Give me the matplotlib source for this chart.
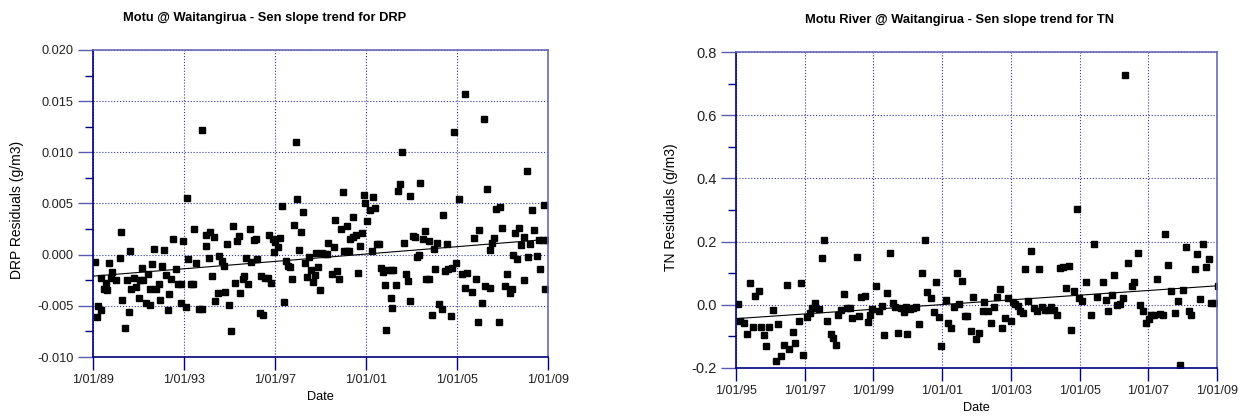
import numpy as np
import pandas as pd
import matplotlib
matplotlib.use('Agg')
import matplotlib.pyplot as plt
import matplotlib.dates as mdates
from matplotlib.ticker import MultipleLocator, FormatStrFormatter

plt.rcParams['font.family'] = ['Liberation Sans', 'DejaVu Sans']

# DRP residuals, Motu @ Waitangirua (decimal year, g/m3)
drp_years = [
    1989.07, 1989.19, 1989.22, 1989.34, 1989.37, 1989.47, 1989.56, 1989.63, 1989.69, 1989.78,
    1989.85, 1990.03, 1990.17, 1990.25, 1990.29, 1990.40, 1990.48, 1990.57, 1990.62, 1990.69,
    1990.79, 1990.91, 1991.01, 1991.09, 1991.17, 1991.20, 1991.32, 1991.41, 1991.50, 1991.53,
    1991.61, 1991.70, 1991.79, 1991.91, 1991.97, 1992.05, 1992.14, 1992.23, 1992.28, 1992.35,
    1992.45, 1992.54, 1992.67, 1992.76, 1992.86, 1992.89, 1992.96, 1993.07, 1993.14, 1993.18,
    1993.29, 1993.40, 1993.45, 1993.51, 1993.65, 1993.78, 1993.80, 1993.95, 1993.97, 1994.08,
    1994.15, 1994.25, 1994.33, 1994.37, 1994.50, 1994.55, 1994.68, 1994.74, 1994.81, 1994.90,
    1994.99, 1995.09, 1995.15, 1995.25, 1995.32, 1995.43, 1995.47, 1995.58, 1995.66, 1995.73,
    1995.82, 1995.90, 1995.95, 1996.07, 1996.17, 1996.20, 1996.35, 1996.41, 1996.47, 1996.57,
    1996.68, 1996.72, 1996.82, 1996.91, 1996.94, 1997.01, 1997.13, 1997.22, 1997.29, 1997.41,
    1997.48, 1997.58, 1997.67, 1997.75, 1997.83, 1997.92, 1997.97, 1998.05, 1998.13, 1998.23,
    1998.30, 1998.40, 1998.49, 1998.57, 1998.67, 1998.77, 1998.81, 1998.89, 1998.98, 1999.07,
    1999.18, 1999.27, 1999.33, 1999.51, 1999.60, 1999.64, 1999.71, 1999.81, 1999.90, 1999.98,
    2000.05, 2000.15, 2000.16, 2000.27, 2000.28, 2000.42, 2000.44, 2000.56, 2000.65, 2000.74,
    2000.81, 2000.90, 2000.96, 2001.06, 2001.17, 2001.25, 2001.30, 2001.40, 2001.47, 2001.59,
    2001.65, 2001.74, 2001.84, 2001.88, 2001.94, 2002.09, 2002.10, 2002.15, 2002.20, 2002.31,
    2002.39, 2002.48, 2002.57, 2002.66, 2002.76, 2002.84, 2002.93, 2002.95, 2003.06, 2003.17,
    2003.23, 2003.31, 2003.39, 2003.50, 2003.59, 2003.64, 2003.76, 2003.79, 2003.89, 2003.98,
    2004.05, 2004.14, 2004.23, 2004.33, 2004.40, 2004.49, 2004.58, 2004.62, 2004.73, 2004.79,
    2004.89, 2004.97, 2005.07, 2005.21, 2005.35, 2005.37, 2005.46, 2005.66, 2005.73, 2005.82,
    2005.91, 2005.95, 2006.08, 2006.17, 2006.23, 2006.30, 2006.45, 2006.46, 2006.56, 2006.64,
    2006.72, 2006.83, 2006.91, 2006.99, 2007.09, 2007.18, 2007.31, 2007.40, 2007.47, 2007.56,
    2007.66, 2007.74, 2007.82, 2007.93, 2007.96, 2008.06, 2008.13, 2008.22, 2008.31, 2008.40,
    2008.50, 2008.59, 2008.66, 2008.78, 2008.84, 2008.88, 2008.96,
]
drp_resid = [
    -0.0007, -0.0061, -0.0050, -0.0054, -0.0023, -0.0034, -0.0028, -0.0035, -0.0008, -0.0023,
    -0.0017, -0.0025, -0.0003, 0.0022, -0.0044, -0.0072, -0.0025, -0.0056, 0.0004, -0.0034,
    -0.0023, -0.0032, -0.0042, -0.0025, -0.0013, -0.0025, -0.0047, -0.0019, -0.0049, -0.0034,
    -0.0009, 0.0006, -0.0034, -0.0029, -0.0044, -0.0011, 0.0005, -0.0020, -0.0054, -0.0038,
    -0.0024, 0.0015, -0.0014, -0.0029, -0.0029, -0.0047, 0.0013, -0.0051, 0.0055, -0.0004,
    -0.0029, -0.0029, 0.0025, -0.0008, -0.0053, -0.0053, 0.0122, 0.0019, 0.0008, -0.0003,
    0.0022, -0.0021, 0.0017, -0.0045, -0.0037, -0.0001, -0.0006, -0.0011, -0.0036, 0.0010,
    -0.0049, -0.0075, 0.0028, -0.0028, 0.0013, 0.0018, -0.0037, -0.0024, -0.0021, -0.0003,
    -0.0029, 0.0025, -0.0007, 0.0014, 0.0015, -0.0004, -0.0057, -0.0021, -0.0059, -0.0023,
    -0.0023, 0.0019, -0.0028, 0.0015, 0.0003, 0.0012, 0.0007, 0.0016, 0.0048, -0.0046,
    -0.0006, -0.0011, -0.0012, -0.0024, 0.0029, 0.0110, 0.0054, 0.0005, 0.0022, 0.0042,
    -0.0008, -0.0022, -0.0002, -0.0015, -0.0027, -0.0020, 0.0002, -0.0012, -0.0035, 0.0002,
    0.0001, 0.0001, 0.0011, -0.0019, 0.0007, 0.0034, -0.0016, -0.0024, 0.0025, 0.0061,
    0.0004, 0.0028, 0.0004, 0.0004, 0.0015, 0.0037, 0.0017, 0.0019, -0.0018, 0.0008,
    0.0021, 0.0058, 0.0050, 0.0033, 0.0044, 0.0004, 0.0056, 0.0046, 0.0010, 0.0010,
    -0.0013, -0.0017, -0.0030, -0.0074, -0.0015, -0.0015, -0.0042, -0.0052, -0.0015, -0.0030,
    0.0062, 0.0069, 0.0100, 0.0011, -0.0019, -0.0026, -0.0045, 0.0057, 0.0018, 0.0017,
    -0.0002, 0.0000, 0.0070, 0.0015, 0.0023, -0.0024, -0.0024, 0.0013, -0.0059, 0.0006,
    -0.0014, 0.0011, -0.0048, -0.0053, 0.0039, -0.0016, 0.0010, -0.0014, -0.0060, -0.0013,
    0.0120, -0.0008, 0.0054, -0.0019, -0.0033, 0.0157, -0.0018, -0.0036, 0.0016, -0.0024,
    -0.0066, 0.0024, -0.0047, 0.0133, -0.0031, 0.0064, -0.0033, 0.0005, 0.0011, 0.0016,
    0.0045, -0.0066, 0.0047, 0.0026, -0.0031, -0.0019, -0.0037, -0.0034, 0.0000, 0.0021,
    -0.0004, 0.0026, 0.0009, -0.0025, 0.0017, 0.0082, -0.0002, 0.0010, 0.0044, 0.0024,
    -0.0001, 0.0014, -0.0014, 0.0014, 0.0049, -0.0034, 0.0014,
]
drp_trend_years = [1989.0, 2009.0]
drp_trend = [-0.0021, 0.0015]

# TN residuals, Motu River @ Waitangirua
tn_years = [
    1995.05, 1995.13, 1995.22, 1995.31, 1995.40, 1995.50, 1995.55, 1995.67, 1995.73, 1995.82,
    1995.88, 1995.96, 1996.09, 1996.15, 1996.23, 1996.32, 1996.41, 1996.48, 1996.55, 1996.65,
    1996.72, 1996.84, 1996.89, 1996.95, 1997.07, 1997.15, 1997.22, 1997.30, 1997.40, 1997.49,
    1997.57, 1997.64, 1997.75, 1997.83, 1997.90, 1997.98, 1998.06, 1998.15, 1998.24, 1998.33,
    1998.38, 1998.51, 1998.59, 1998.65, 1998.74, 1998.84, 1998.89, 1998.97, 1999.07, 1999.17,
    1999.26, 1999.31, 1999.40, 1999.49, 1999.57, 1999.64, 1999.72, 1999.79, 1999.88, 1999.96,
    1999.97, 2000.06, 2000.15, 2000.24, 2000.32, 2000.41, 2000.50, 2000.57, 2000.69, 2000.75,
    2000.83, 2000.92, 2000.98, 2001.10, 2001.17, 2001.25, 2001.33, 2001.42, 2001.49, 2001.58,
    2001.66, 2001.73, 2001.85, 2001.89, 2001.97, 2002.06, 2002.18, 2002.23, 2002.32, 2002.42,
    2002.51, 2002.60, 2002.67, 2002.74, 2002.83, 2002.93, 2002.99, 2003.06, 2003.13, 2003.21,
    2003.27, 2003.35, 2003.41, 2003.49, 2003.58, 2003.66, 2003.76, 2003.81, 2003.90, 2003.99,
    2004.08, 2004.17, 2004.27, 2004.33, 2004.42, 2004.51, 2004.60, 2004.68, 2004.76, 2004.83,
    2004.93, 2004.99, 2005.08, 2005.19, 2005.34, 2005.41, 2005.50, 2005.67, 2005.76, 2005.83,
    2005.93, 2006.00, 2006.08, 2006.18, 2006.26, 2006.33, 2006.41, 2006.52, 2006.59, 2006.69,
    2006.75, 2006.84, 2006.94, 2007.02, 2007.09, 2007.17, 2007.25, 2007.34, 2007.44, 2007.50,
    2007.58, 2007.67, 2007.77, 2007.86, 2007.93, 2008.00, 2008.09, 2008.18, 2008.24, 2008.35,
    2008.42, 2008.51, 2008.60, 2008.68, 2008.77, 2008.84, 2008.94, 2009.02,
]
tn_resid = [
    0.001, -0.051, -0.059, -0.093, 0.070, -0.070, 0.027, 0.044, -0.070, -0.095,
    -0.132, -0.070, -0.018, -0.177, -0.060, -0.162, -0.126, 0.064, -0.140, -0.085,
    -0.121, -0.050, 0.070, -0.160, -0.040, -0.025, -0.011, 0.005, -0.015, 0.148,
    0.205, -0.053, -0.093, -0.104, -0.128, -0.034, -0.016, 0.035, -0.011, -0.011,
    -0.043, 0.152, -0.037, 0.024, 0.027, -0.056, -0.031, -0.015, 0.058, -0.020,
    -0.005, -0.096, 0.037, 0.163, 0.005, -0.008, -0.091, -0.011, -0.023, -0.006,
    -0.092, -0.014, -0.009, -0.006, -0.062, 0.099, 0.205, 0.041, 0.021, -0.023,
    0.073, -0.040, -0.131, 0.015, -0.059, -0.073, -0.006, 0.099, 0.003, 0.076,
    -0.036, -0.036, -0.082, 0.024, -0.107, -0.091, -0.019, 0.009, -0.021, -0.057,
    -0.008, 0.025, 0.051, -0.073, -0.043, 0.020, -0.053, 0.008, 0.002, -0.003,
    -0.019, -0.026, 0.113, 0.013, 0.171, -0.011, -0.020, 0.113, -0.006, -0.016,
    -0.016, -0.006, -0.016, -0.034, 0.115, 0.118, 0.054, 0.122, -0.079, 0.044,
    0.303, 0.021, 0.013, 0.073, -0.031, 0.193, 0.025, 0.073, 0.015, -0.020,
    0.031, 0.093, -0.001, 0.002, 0.020, 0.728, 0.132, 0.059, 0.071, 0.163,
    -0.001, -0.021, -0.057, -0.046, -0.032, -0.032, 0.080, -0.029, -0.033, 0.225,
    0.125, 0.044, -0.027, 0.012, -0.192, 0.047, 0.184, -0.020, -0.034, 0.113,
    0.161, 0.018, 0.193, 0.119, 0.145, 0.004, 0.007, 0.060,
]
tn_trend_years = [1995.0, 2009.0]
tn_trend = [-0.044, 0.060]


def to_dates(years):
    years = np.asarray(years, dtype=float)
    whole = np.floor(years).astype(int)
    base = pd.to_datetime([f'{y}-01-01' for y in whole])
    return base + pd.to_timedelta((years - whole) * 365.25, unit='D')


NAVY = '#000080'
GRID = '#3838a8'


def style_axes(ax, tick_years, ylim, ymajor, yminor, ysize):
    ticks = pd.to_datetime([f'{y}-01-01' for y in tick_years])
    ax.set_xlim(ticks[0], ticks[-1])
    ax.set_xticks(ticks)
    ax.xaxis.set_major_formatter(mdates.DateFormatter('%-d/%m/%y'))
    ax.set_ylim(*ylim)
    ax.yaxis.set_major_locator(MultipleLocator(ymajor))
    ax.yaxis.set_minor_locator(MultipleLocator(yminor))
    ax.grid(True, which='major', linestyle=':', color=GRID, linewidth=0.8)
    for side in ['left', 'bottom']:
        ax.spines[side].set_color(NAVY)
        ax.spines[side].set_linewidth(1.2)
    for side in ['top', 'right']:
        ax.spines[side].set_color('#6a6ab8')
        ax.spines[side].set_linewidth(1.2)
    ax.tick_params(axis='y', which='major', direction='out', length=11, width=1.0,
                   color='#5a5ab0', labelsize=ysize, pad=3, labelcolor='#202020')
    ax.tick_params(axis='y', which='minor', direction='out', length=6, width=1.0, color=NAVY)
    ax.tick_params(axis='x', which='major', direction='out', length=9, width=1.0,
                   color=NAVY, labelsize=9, pad=3, labelcolor='#202020')
    ax.set_xlabel('Date', fontsize=9.2, labelpad=4)


fig = plt.figure(figsize=(12.56, 4.2), dpi=100)

ax1 = fig.add_axes([0.0740, 0.150, 0.3623, 0.731])
ax1.plot(to_dates(drp_years), drp_resid, 's', color='black', markersize=4.3)
ax1.plot(to_dates(drp_trend_years), drp_trend, '-', color='black', linewidth=0.8)
style_axes(ax1, [1989, 1993, 1997, 2001, 2005, 2009], (-0.010, 0.020), 0.005, 0.0025, 9.2)
ax1.yaxis.set_major_formatter(FormatStrFormatter('%.3f'))
ax1.set_ylabel('DRP Residuals (g/m3)', fontsize=10)
ax1.yaxis.set_label_coords(-0.152, 0.48)

ax2 = fig.add_axes([0.586, 0.124, 0.383, 0.752])
ax2.plot(to_dates(tn_years), tn_resid, 's', color='black', markersize=4.3)
ax2.plot(to_dates(tn_trend_years), tn_trend, '-', color='black', linewidth=0.8)
style_axes(ax2, [1995, 1997, 1999, 2001, 2003, 2005, 2007, 2009], (-0.2, 0.8), 0.2, 0.1, 10.5)
ax2.yaxis.set_major_formatter(FormatStrFormatter('%.1f'))
ax2.set_ylabel('TN Residuals (g/m3)', fontsize=10)
ax2.yaxis.set_label_coords(-0.121, 0.51)

fig.text(0.211, 0.957, 'Motu @ Waitangirua - Sen slope trend for DRP',
         ha='center', va='center', fontsize=9.3, fontweight='bold')
fig.text(0.764, 0.952, 'Motu River @ Waitangirua - Sen slope trend for TN',
         ha='center', va='center', fontsize=9.3, fontweight='bold')

fig.savefig('out.png', dpi=100)
